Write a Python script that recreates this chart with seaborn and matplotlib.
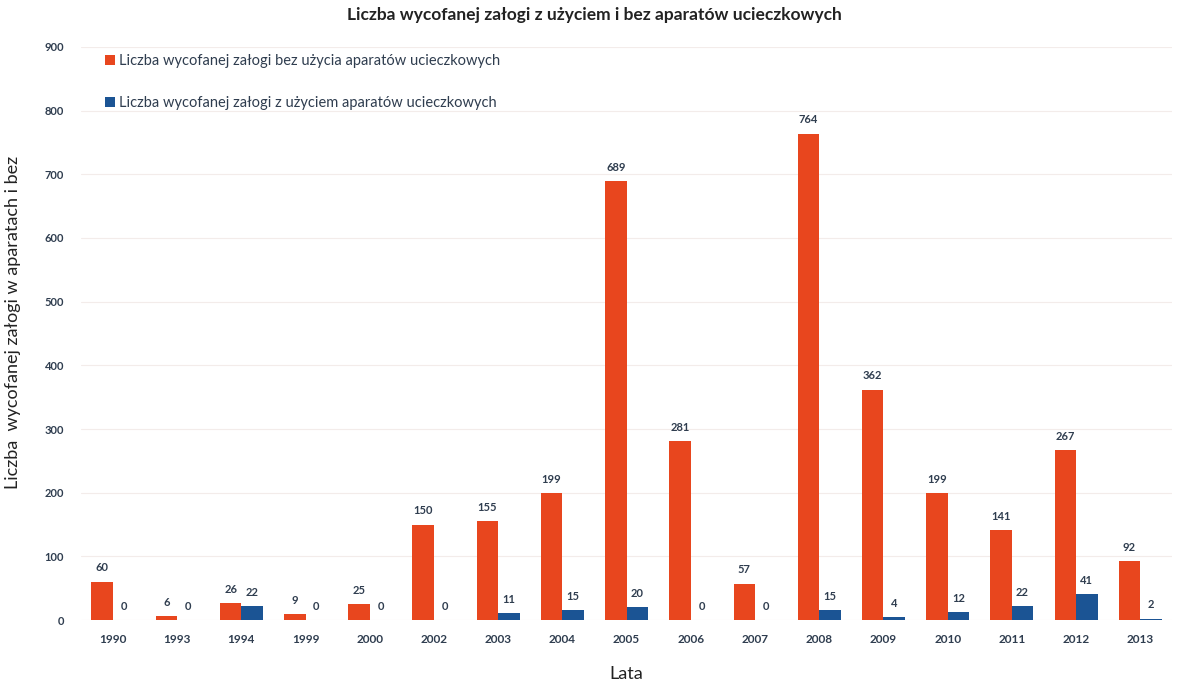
import matplotlib
matplotlib.use("Agg")
import matplotlib.pyplot as plt
import seaborn as sns
import pandas as pd

years = ["1990", "1993", "1994", "1999", "2000", "2002", "2003", "2004", "2005",
         "2006", "2007", "2008", "2009", "2010", "2011", "2012", "2013"]
without_apparatus = [60, 6, 26, 9, 25, 150, 155, 199, 689, 281, 57, 764, 362, 199, 141, 267, 92]
with_apparatus = [0, 0, 22, 0, 0, 0, 11, 15, 20, 0, 0, 15, 4, 12, 22, 41, 2]
series_names = ["Liczba wycofanej załogi bez użycia aparatów ucieczkowych",
                "Liczba wycofanej załogi z użyciem aparatów ucieczkowych"]
y_ticks = [0, 100, 200, 300, 400, 500, 600, 700, 800, 900]

df = pd.DataFrame({
    "Lata": years * 2,
    "Wartość": without_apparatus + with_apparatus,
    "Seria": [series_names[0]] * len(years) + [series_names[1]] * len(years),
})

sns.set_theme(style="white")
plt.rcParams["font.family"] = ["Lato", "DejaVu Sans"]

fig = plt.figure(figsize=(11.89, 6.86), dpi=100)
ax = fig.add_axes([0.068, 0.0962, 0.918, 0.8353])

palette = {series_names[0]: "#E8461E", series_names[1]: "#1B5494"}
sns.barplot(data=df, x="Lata", y="Wartość", hue="Seria", order=years,
            hue_order=series_names, palette=palette, width=0.67, gap=0,
            saturation=1, ax=ax, linewidth=0)

text_col = "#2f3d4f"
for cont in ax.containers:
    ax.bar_label(cont, fmt="%d", padding=6, fontsize=8, color=text_col, fontweight="bold")

ax.set_ylim(0, 900)
ax.set_xlim(-0.5, 16.5)
ax.set_yticks(y_ticks)
ax.set_yticklabels([str(t) for t in y_ticks], fontsize=8, color=text_col, fontweight="bold")
ax.tick_params(axis="x", labelsize=8.5, labelcolor=text_col, pad=10, length=0)
ax.tick_params(axis="y", pad=12, length=0)
for lbl in ax.get_xticklabels():
    lbl.set_fontweight("bold")
ax.yaxis.grid(True, color="#f3ecea", linewidth=0.8)
ax.set_axisbelow(True)
for s in ax.spines.values():
    s.set_visible(False)

ax.set_xlabel("Lata", fontsize=13, color="#222222")
ax.xaxis.set_label_coords(0.5, -0.08)
ax.set_ylabel("Liczba  wycofanej załogi w aparatach i bez", fontsize=13, color="#222222")
ax.yaxis.set_label_coords(-0.055, 0.52)

fig.suptitle("Liczba wycofanej załogi z użyciem i bez aparatów ucieczkowych",
             fontsize=12.5, fontweight="bold", color="#222222", x=0.5, y=0.99)

leg = ax.legend(loc="upper left", bbox_to_anchor=(0.01, 1.01), frameon=False,
                fontsize=10.5, labelspacing=1.9, handlelength=0.7, handleheight=0.7,
                handletextpad=0.3)
for t in leg.get_texts():
    t.set_color(text_col)

fig.savefig("out.png", dpi=100)
